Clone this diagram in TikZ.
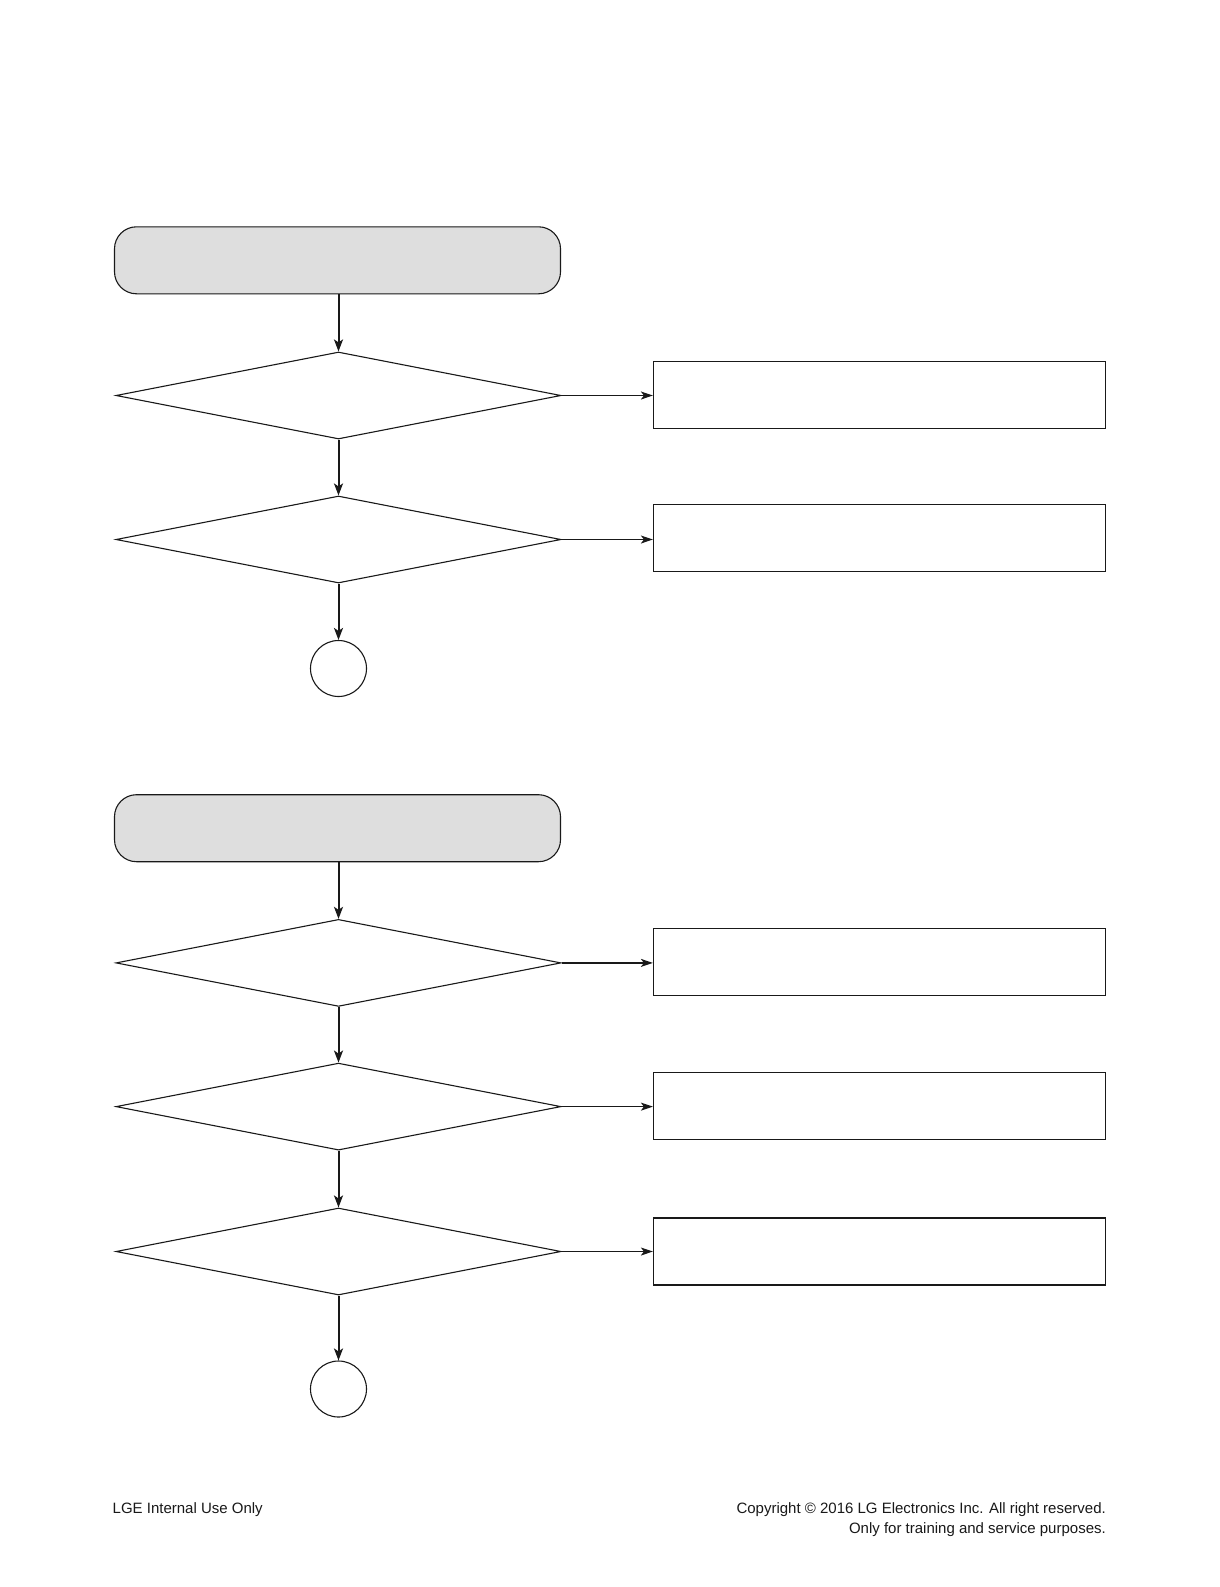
\documentclass[tikz,border=0pt]{standalone}
\usepackage{fontspec}
\setmainfont{Liberation Sans}
\usetikzlibrary{shapes.geometric,arrows.meta}
\begin{document}
\begin{tikzpicture}[x=1pt,y=-1pt,
  term/.style={draw=black!90,line width=1.1pt,fill=black!13,rounded corners=22pt,minimum width=446pt,minimum height=67pt,inner sep=0pt},
  dec/.style={draw=black!90,line width=1.1pt,diamond,minimum width=445pt,minimum height=87pt,inner sep=0pt},
  act/.style={draw=black!90,line width=1.2pt,rectangle,minimum width=452pt,minimum height=67pt,inner sep=0pt},
  conn/.style={draw=black!90,line width=1.1pt,circle,minimum size=56pt,inner sep=0pt},
  down/.style={line width=2pt,draw=black!90,-{Stealth[length=12pt,width=9pt,inset=3pt]}},
  right/.style={line width=1.3pt,draw=black!90,-{Stealth[length=12pt,width=8pt,inset=3pt]}},
  foot/.style={inner sep=0pt,font=\fontsize{15}{18}\selectfont,text=black!90}
]
\useasboundingbox (0,0) rectangle (1219,1587);
\fill[white] (0,0) rectangle (1219,1587);
% section 1
\node[term] (T1) at (337.5,260.3) {};
\node[dec] (D1) at (338.5,395.5) {};
\node[dec] (D2) at (338.5,539.5) {};
\node[conn] (C1) at (338.5,668.5) {};
\node[act] (B1) at (879.5,394.8) {};
\node[act] (B2) at (879.5,537.8) {};
% section 2
\node[term] (T2) at (337.5,828.2) {};
\node[dec] (D3) at (338.5,962.9) {};
\node[dec] (D4) at (338.5,1106.6) {};
\node[dec] (D5) at (338.5,1251.5) {};
\node[conn] (C2) at (338.5,1389) {};
\node[act] (B3) at (879.5,961.9) {};
\node[act] (B4) at (879.5,1105.6) {};
\node[act] (B5) at (879.5,1251.5) {};
% arrows
\draw[down] (T1.south -| D1.north) -- (D1.north);
\draw[down] (D1.south) -- (D2.north);
\draw[down] (D2.south) -- (C1.north);
\draw[right] (D1.east) -- (D1.east -| B1.west);
\draw[right] (D2.east) -- (D2.east -| B2.west);
\draw[down] (T2.south -| D3.north) -- (D3.north);
\draw[down] (D3.south) -- (D4.north);
\draw[down] (D4.south) -- (D5.north);
\draw[down] (D5.south) -- (C2.north);
\draw[right] (D3.east) -- (D3.east -| B3.west);
\draw[right] (D4.east) -- (D4.east -| B4.west);
\draw[right] (D5.east) -- (D5.east -| B5.west);
% footer
\node[foot,anchor=base west] (F1) at (112.5,1513.5) {LGE Internal Use Only};
\node[foot,anchor=base east] (F2) at (1106,1513.5) {Copyright © 2016 LG Electronics Inc. All right reserved.};
\node[foot,anchor=base east] (F3) at (1106,1533) {Only for training and service purposes.};
\end{tikzpicture}
\end{document}
